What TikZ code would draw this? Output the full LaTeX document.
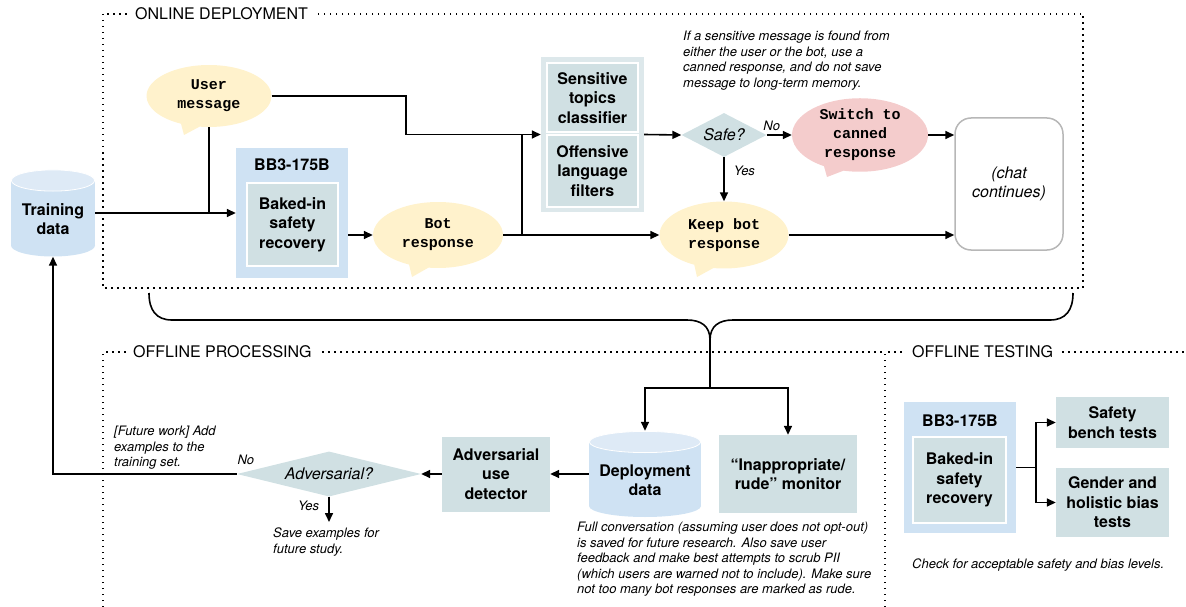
\documentclass[tikz,border=0pt]{standalone}
\usepackage{fontspec}
\setmainfont{TeX Gyre Heros}
\setmonofont{Liberation Mono}
\usetikzlibrary{shapes}
\usetikzlibrary{shapes.callouts}
\usetikzlibrary{positioning}
\usetikzlibrary{arrows.meta}
\definecolor{bluefill}{HTML}{CFE2F3}
\definecolor{bluetop}{HTML}{DEEAF6}
\definecolor{tealfill}{HTML}{D0E0E3}
\definecolor{tealouter}{HTML}{DDE8EB}
\definecolor{yellowfill}{HTML}{FFF2CC}
\definecolor{pinkfill}{HTML}{F4CCCC}
\definecolor{chatgray}{HTML}{B7B7B7}
\newcommand{\bigf}{\fontsize{16}{19.5}\selectfont}
\newcommand{\notef}{\fontsize{13}{15.5}\selectfont}
\newcommand{\monof}{\ttfamily\bfseries\fontsize{15}{19}\selectfont}
\tikzset{
    line/.style = {line width=1.6pt,draw=black},
    edgen/.style = {-{Triangle[length=9pt,width=8pt]},line width=1.6pt},
    dotline/.style = {line width=1.5pt,dash pattern=on 1.5pt off 4.5pt},
    sect/.style = {fill=white,inner xsep=6pt,inner ysep=2pt,font=\bigf,anchor=west},
    cell/.style = {rectangle,inner sep=0pt,fill=tealfill,align=center,font=\bigf\bfseries},
    cellw/.style = {cell,draw=white,line width=2pt},
    cellb/.style = {rectangle,inner sep=0pt,fill=bluefill},
    bubble/.style = {ellipse callout,inner sep=0pt,fill=yellowfill,align=center,font=\monof,
      callout pointer arc=18},
    bubbler/.style = {bubble,fill=pinkfill},
    choice/.style = {diamond,inner sep=0pt,fill=tealfill,font=\bigf\itshape},
    lbl/.style = {font=\notef\itshape,inner sep=1pt},
    note/.style = {font=\notef\itshape,align=left,inner sep=0pt,anchor=north west},
    drumtext/.style = {font=\bigf\bfseries,align=center,inner sep=0pt,yshift=-6pt},
    drum/.style = {rectangle,inner sep=0pt,
      minimum width={2*#1},
      path picture={
        \fill[bluefill] ([yshift=-11pt]path picture bounding box.north west)
          rectangle ([yshift=11pt]path picture bounding box.south east);
        \fill[bluefill] ([yshift=11pt]path picture bounding box.south)
          ellipse [x radius=#1pt,y radius=11pt];
        \fill[bluetop,draw=white,line width=0.8pt] ([yshift=-11pt]path picture bounding box.north)
          ellipse [x radius=#1pt-0.4pt,y radius=10.6pt];
      }}
}
\begin{document}
\begin{tikzpicture}[x=1pt,y=-1pt]
  \useasboundingbox (0,0) rectangle (1186,607);

  % sections
  \draw[dotline] (103,14) rectangle (1083,288);
  \draw[dotline] (103,607) -- (103,352) -- (885,352);
  \draw[dotline] (885,607) -- (885,352) -- (1186,352);
  \node[sect] (online) at (129,14) {ONLINE DEPLOYMENT};
  \node[sect] (offproc) at (127,352) {OFFLINE PROCESSING};
  \node[sect] (offtest) at (906,352) {OFFLINE TESTING};

  % online deployment
  \node[drum=42, minimum height=87, label={[drumtext]center:Training\\data}] (train) at (53,213) {};
  \node[bubble, minimum width=125, minimum height=62,
        callout absolute pointer={(184,135)}] (umsg) at (209,96) {User\\message};
  \node[cellb, minimum width=112, minimum height=130] (bb3) at (292,213) {};
  \node[font=\bigf\bfseries] (bb3t) at (292,165) {BB3-175B};
  \node[cellw, minimum width=91, minimum height=83] (baked) at (292.5,224.5) {Baked-in\\safety\\recovery};
  \node[bubble, minimum width=130, minimum height=66,
        callout absolute pointer={(412,277)}] (bot) at (438,235) {Bot\\response};
  \node[cell, fill=tealouter, minimum width=103, minimum height=155] (clf) at (592.5,134.5) {};
  \node[cellw, minimum width=91, minimum height=69] (topics) at (592.5,98) {Sensitive\\topics\\classifier};
  \node[cellw, minimum width=91, minimum height=72] (offens) at (592.5,171) {Offensive\\language\\filters};
  \node[choice, aspect=1.93, minimum width=85, minimum height=44] (safe) at (724,135) {Safe?};
  \node[bubble, minimum width=129, minimum height=67,
        callout absolute pointer={(697,277)}] (keep) at (724,235) {Keep bot\\response};
  \node[bubbler, minimum width=136, minimum height=66,
        callout absolute pointer={(827,177)}] (switch) at (860,135) {Switch to\\canned\\response};
  \node[rectangle, rounded corners=16pt, draw=chatgray, line width=1.5pt, minimum width=108,
        minimum height=132, align=center, font=\bigf\itshape] (chat) at (1009,184) {(chat\\continues)};
  \node[note] (sens) at (683,31) {If a sensitive message is found from\\either the user or the bot, use a\\canned response, and do not save\\message to long-term memory.};

  \coordinate (uj) at (406,134.5);
  \coordinate (bj) at (522,235);
  \draw[edgen] (train.east) -- (bb3.west);
  \draw[line] (umsg.south) -- (umsg.south |- bb3.west);
  \draw[edgen] (umsg.east) -| (uj) -- (clf.west);
  \draw[edgen] (bb3.east |- bot) -- (bot.west);
  \draw[edgen] (bot.east) -- (keep.west);
  \draw[line] (bj) -- (bj |- clf.west);
  \draw[edgen] (clf.east) -- (safe.west);
  \draw[edgen] (safe.east) -- node[lbl, above=3pt, pos=0.2] {No} (switch.west);
  \draw[edgen] (safe.south) -- node[lbl, right=8pt, pos=0.3] {Yes} (keep.north);
  \draw[edgen] (switch.east) -- (switch.east -| chat.west);
  \draw[edgen] (keep.east) -- (keep.east -| chat.west);

  % brace down to offline processing
  \coordinate (cusp) at (710,340);
  \coordinate (dj) at (710,388);
  \draw[line] (149,293) .. controls (149,310) and (156,320) .. (172,320) -- (687,320)
    .. controls (701,320) and (710,326) .. (cusp) .. controls (710,326) and (719,320) .. (733,320)
    -- (1050,320) .. controls (1066,320) and (1073,310) .. (1073,293);
  \draw[line] (cusp) -- (dj);

  % offline processing
  \node[drum=56, minimum height=86, label={[drumtext]center:Deployment\\data}] (dep) at (645,474) {};
  \node[cell, minimum width=138, minimum height=78] (rude) at (788,474) {“Inappropriate/\\rude” monitor};
  \node[cell, minimum width=108, minimum height=75] (det) at (496,474) {Adversarial\\use\\detector};
  \node[choice, aspect=4.1, minimum width=184, minimum height=45] (adv) at (329,474) {Adversarial?};
  \coordinate (sv) at (329,522);
  \node[note] (depnote) at (577,522) {Full conversation (assuming user does not opt-out)\\is saved for future research. Also save user\\feedback and make best attempts to scrub PII\\(which users are warned not to include). Make sure\\not too many bot responses are marked as rude.};
  \node[note] (future) at (114,426) {[Future work] Add\\examples to the\\training set.};
  \node[note] (savenote) at (273,528) {Save examples for\\future study.};

  \draw[edgen] (dj) -| (dep.north);
  \draw[edgen] (dj) -| (rude.north);
  \draw[edgen] (dep.west) -- (det.east);
  \draw[edgen] (det.west) -- (adv.east);
  \draw[edgen] (adv.west) node[lbl, anchor=south, xshift=9pt, yshift=8pt] {No} -| (train.south);
  \draw[edgen] (adv.south) -- node[lbl, left=8pt, pos=0.35] {Yes} (sv);

  % offline testing
  \node[cellb, minimum width=112, minimum height=131] (bb3o) at (960,467.5) {};
  \node[font=\bigf\bfseries] (bb3ot) at (960,421) {BB3-175B};
  \node[cellw, minimum width=93, minimum height=86] (bakedo) at (959.5,480) {Baked-in\\safety\\recovery};
  \node[cell, minimum width=113, minimum height=51] (bench) at (1112.5,422.5) {Safety\\bench tests};
  \node[cell, minimum width=113, minimum height=69] (gender) at (1112.5,502.5) {Gender and\\holistic bias\\tests};
  \node[note] (check) at (912,559) {Check for acceptable safety and bias levels.};
  \coordinate (tj) at (1036,467.5);
  \draw[line] (bb3o.east) -- (tj);
  \draw[edgen] (tj) |- (bench.west);
  \draw[edgen] (tj) |- (gender.west);
\end{tikzpicture}
\end{document}
